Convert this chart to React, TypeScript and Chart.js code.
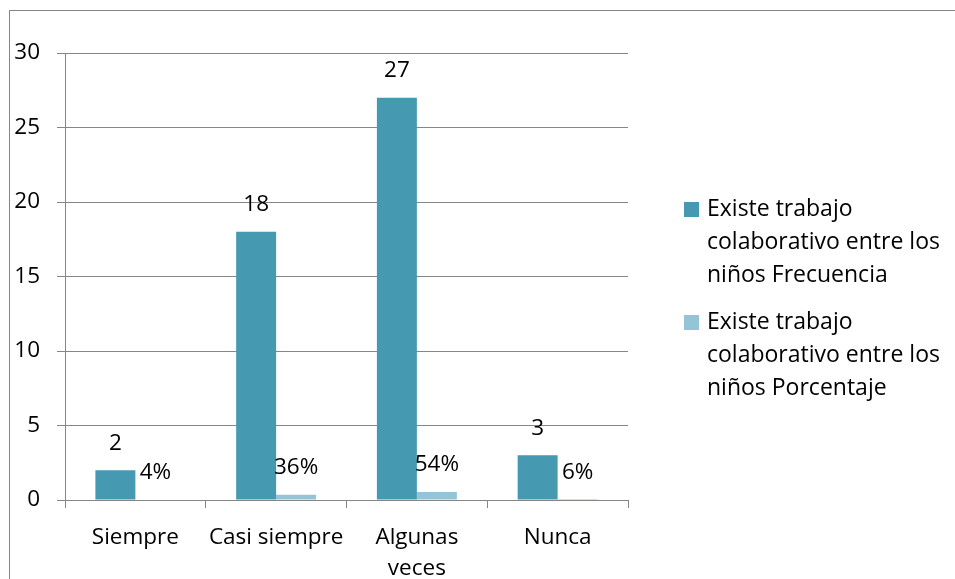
import React, { useEffect, useRef } from "react";
import { Chart, registerables } from "chart.js";

Chart.register(...registerables);

const categories: string[][] = [["Siempre"], ["Casi siempre"], ["Algunas", "veces"], ["Nunca"]];
const frecuencia: number[] = [2, 18, 27, 3];
const porcentaje: number[] = [0.04, 0.36, 0.54, 0.06];
const frecuenciaLabels: string[] = ["2", "18", "27", "3"];
const porcentajeLabels: string[] = ["4%", "36%", "54%", "6%"];
const seriesNames: string[][] = [
  ["Existe trabajo", "colaborativo entre los", "niños Frecuencia"],
  ["Existe trabajo", "colaborativo entre los", "niños Porcentaje"],
];
const seriesColors: string[] = ["#4599B0", "#93C5D7"];
const yMax = 30;
const yStep = 5;

const FONT = "'Open Sans', 'Noto Sans', sans-serif";
const GRID = "#868686";

const dataLabelPlugin = {
  id: "dataLabels",
  afterDatasetsDraw(chart: any) {
    const ctx = chart.ctx;
    const texts = [frecuenciaLabels, porcentajeLabels];
    ctx.save();
    ctx.font = `22.5px ${FONT}`;
    ctx.fillStyle = "#000";
    ctx.textAlign = "center";
    ctx.textBaseline = "middle";
    chart.data.datasets.forEach((_: any, di: number) => {
      const meta = chart.getDatasetMeta(di);
      meta.data.forEach((el: any, i: number) => {
        ctx.fillText(texts[di][i], el.x, el.y - 27);
      });
    });
    ctx.restore();
  },
};

const legendPlugin = {
  id: "customLegend",
  afterDraw(chart: any) {
    const ctx = chart.ctx;
    ctx.save();
    ctx.font = `23px ${FONT}`;
    ctx.textAlign = "left";
    ctx.textBaseline = "middle";
    const boxX = 684;
    const textX = 707;
    const startY = [209, 322];
    const lh = 33;
    chart.data.datasets.forEach((ds: any, di: number) => {
      const y0 = startY[di];
      ctx.fillStyle = ds.backgroundColor;
      ctx.fillRect(boxX, y0 - 7, 15, 15);
      ctx.fillStyle = "#000";
      seriesNames[di].forEach((line, li) => {
        ctx.fillText(line, textX, y0 + li * lh);
      });
    });
    ctx.restore();
  },
};

export default function App() {
  const ref = useRef<HTMLCanvasElement | null>(null);

  useEffect(() => {
    if (!ref.current) return;
    const chart = new Chart(ref.current, {
      type: "bar",
      data: {
        labels: categories,
        datasets: [
          {
            label: seriesNames[0].join(" "),
            data: frecuencia,
            backgroundColor: seriesColors[0],
            categoryPercentage: 0.568,
            barPercentage: 1,
          },
          {
            label: seriesNames[1].join(" "),
            data: porcentaje,
            backgroundColor: seriesColors[1],
            categoryPercentage: 0.568,
            barPercentage: 1,
          },
        ],
      },
      options: {
        responsive: false,
        animation: false,
        devicePixelRatio: 1,
        layout: { padding: { top: 53, right: 327, left: 0, bottom: 0 } },
        plugins: {
          legend: { display: false },
          tooltip: { enabled: false },
        },
        scales: {
          x: {
            offset: true,
            grid: {
              offset: true,
              drawOnChartArea: false,
              drawTicks: true,
              tickLength: 8,
              color: GRID,
            },
            border: { color: GRID },
            ticks: {
              color: "#000",
              font: { family: FONT, size: 22.5, lineHeight: 1.38 },
              padding: 14,
              maxRotation: 0,
              minRotation: 0,
              autoSkip: false,
            },
            afterFit(scale: any) {
              scale.height = 79;
            },
          },
          y: {
            min: 0,
            max: yMax,
            ticks: {
              stepSize: yStep,
              color: "#000",
              font: { family: FONT, size: 22.5 },
              padding: 17,
            },
            grid: { color: GRID, tickLength: 8 },
            border: { color: GRID },
            afterFit(scale: any) {
              scale.width = 65;
            },
          },
        },
      },
      plugins: [dataLabelPlugin, legendPlugin],
    });
    return () => chart.destroy();
  }, []);

  return (
    <div
      style={{
        position: "absolute",
        left: 0,
        top: 0,
        width: 955,
        height: 579,
        overflow: "hidden",
        background: "#fff",
      }}
    >
      <div
        style={{
          position: "absolute",
          left: 9,
          top: 10,
          width: 1000,
          height: 1000,
          border: `1px solid ${GRID}`,
        }}
      />
      <canvas
        ref={ref}
        width={955}
        height={579}
        style={{ position: "absolute", left: 0, top: 0, width: 955, height: 579 }}
      />
    </div>
  );
}
